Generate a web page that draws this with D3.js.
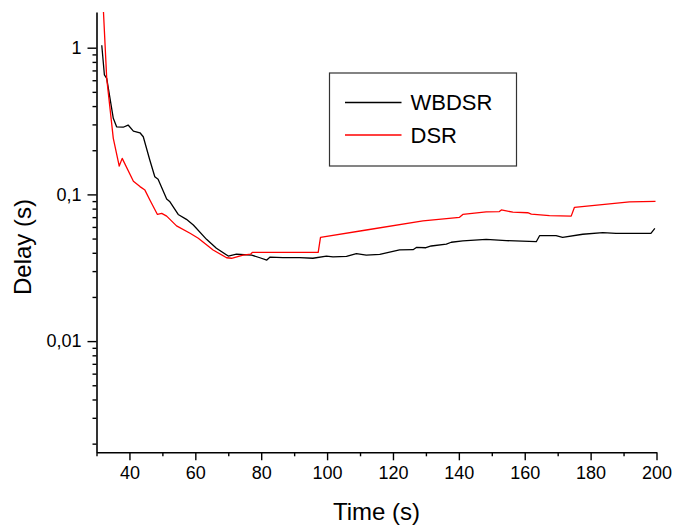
<!DOCTYPE html>
<html>
<head>
<meta charset="utf-8">
<script src="https://cdn.jsdelivr.net/npm/d3@7"></script>
<style>
  body { margin: 0; background: #fff; }
  text { font-family: Arial, "Liberation Sans", sans-serif; fill: #000; }
</style>
</head>
<body>
<div id="chart"></div>
<script>
// values
const wbdsrTime = [31.6, 32.4, 33.1, 35.1, 36.1, 38.1, 39.6, 41.2, 43.2, 44.2, 46.2, 47.7, 48.7, 51.3, 52.3, 54.8, 57.3, 59.4, 63.4, 66.4, 70.0, 72.5, 77.1, 79.6, 81.7, 82.7, 86.6, 91.7, 95.7, 99.8, 101.8, 105.9, 108.9, 111.9, 116, 122, 126.1, 127.1, 130, 131.6, 136.2, 137.7, 141.2, 148.3, 154.4, 163.5, 164.5, 169.5, 171.5, 177.6, 183.7, 187.7, 198.3, 199.5];
const wbdsrDelay = [1.04, 0.652, 0.618, 0.330, 0.289, 0.287, 0.297, 0.270, 0.263, 0.247, 0.171, 0.132, 0.127, 0.093, 0.089, 0.073, 0.0676, 0.0618, 0.0494, 0.0429, 0.038, 0.0391, 0.0386, 0.037, 0.0357, 0.0374, 0.0371, 0.0371, 0.0367, 0.038, 0.0375, 0.0378, 0.0395, 0.0386, 0.039, 0.0418, 0.042, 0.0435, 0.0433, 0.0445, 0.0458, 0.0472, 0.0482, 0.0493, 0.0484, 0.0476, 0.0523, 0.0523, 0.051, 0.0535, 0.0548, 0.0543, 0.0543, 0.0587];

const dsrTime = [31.9, 33.1, 35.1, 36.9, 37.8, 41.2, 43.2, 44.7, 46.2, 48.5, 49.8, 51.3, 54.3, 58.4, 60.9, 65.4, 69.5, 71.0, 74.5, 76.8, 77.3, 97.3, 98.0, 111.9, 129.1, 140.2, 141.2, 148.3, 152.3, 152.9, 156.4, 160.9, 162, 167.5, 174.1, 175.1, 182.7, 191.8, 199.7];
const dsrDelay = [2.2, 0.618, 0.241, 0.156, 0.176, 0.123, 0.113, 0.107, 0.0916, 0.073, 0.0743, 0.0711, 0.061, 0.0543, 0.0502, 0.0418, 0.037, 0.0367, 0.0386, 0.0391, 0.0403, 0.0403, 0.0509, 0.0572, 0.0659, 0.0698, 0.073, 0.0759, 0.0764, 0.0783, 0.0756, 0.075, 0.0733, 0.0716, 0.0711, 0.0817, 0.0847, 0.089, 0.0897];

const xMajor = [40, 60, 80, 100, 120, 140, 160, 180, 200];
const xMinor = [30, 50, 70, 90, 110, 130, 150, 170, 190];
const yMajor = [1, 0.1, 0.01];
const yLabels = ["1", "0,1", "0,01"];

const width = 673;
const height = 526;
const margin = { top: 12, left: 96.5, right: 16.5, bottom: 73.7 };

const svg = d3.select("#chart")
    .append("svg")
    .attr("width", width)
    .attr("height", height);

const x = d3.scaleLinear()
    .domain([30, 200])
    .range([margin.left, width - margin.right]);

const y = d3.scaleLog()
    .domain([0.001746, 1.751])
    .range([height - margin.bottom, margin.top]);

// minor ticks for the log axis: 2..9 in each decade, kept inside the domain
const yMinor = [];
[0.001, 0.01, 0.1, 1].forEach(dec => {
    for (let k = 2; k <= 9; k++) {
        const v = dec * k;
        if (v > y.domain()[0] && v < y.domain()[1]) yMinor.push(v);
    }
});

svg.append("defs").append("clipPath")
    .attr("id", "plot")
    .append("rect")
    .attr("x", margin.left)
    .attr("y", margin.top)
    .attr("width", width - margin.left - margin.right)
    .attr("height", height - margin.top - margin.bottom);

const line = d3.line()
    .x(d => x(d[0]))
    .y(d => y(d[1]));

const series = [
    { name: "WBDSR", color: "#000", pts: d3.zip(wbdsrTime, wbdsrDelay) },
    { name: "DSR", color: "#ff0000", pts: d3.zip(dsrTime, dsrDelay) }
];

svg.append("g")
    .attr("clip-path", "url(#plot)")
    .selectAll("path")
    .data(series)
    .join("path")
    .attr("fill", "none")
    .attr("stroke", d => d.color)
    .attr("stroke-width", 1.3)
    .attr("stroke-linejoin", "round")
    .attr("d", d => line(d.pts));

// x axis
const xAxis = svg.append("g")
    .attr("transform", `translate(0,${height - margin.bottom})`)
    .call(d3.axisBottom(x).tickValues(xMajor).tickSize(8).tickPadding(6).tickSizeOuter(0));
xAxis.append("g")
    .call(d3.axisBottom(x).tickValues(xMinor).tickSize(4).tickFormat("").tickSizeOuter(0))
    .select(".domain").remove();

// y axis
const yAxis = svg.append("g")
    .attr("transform", `translate(${margin.left},0)`)
    .call(d3.axisLeft(y).tickValues(yMajor).tickSize(9).tickPadding(6).tickSizeOuter(0)
        .tickFormat((d, i) => yLabels[i]));
yAxis.append("g")
    .call(d3.axisLeft(y).tickValues(yMinor).tickSize(4).tickFormat("").tickSizeOuter(0))
    .select(".domain").remove();

svg.selectAll(".domain").attr("stroke-width", 1.6);
svg.selectAll(".tick line").attr("stroke-width", 1.4);
svg.selectAll(".tick text")
    .style("font-family", "Arial, 'Liberation Sans', sans-serif")
    .style("font-size", "18px");

// axis titles
svg.append("text")
    .attr("x", (margin.left + width - margin.right) / 2)
    .attr("y", 520)
    .attr("text-anchor", "middle")
    .style("font-size", "24px")
    .text("Time (s)");

svg.append("text")
    .attr("transform", "translate(31,247) rotate(-90)")
    .attr("text-anchor", "middle")
    .style("font-size", "24px")
    .text("Delay (s)");

// legend
const legend = svg.append("g").attr("transform", "translate(329.5,73)");
legend.append("rect")
    .attr("width", 187)
    .attr("height", 93)
    .attr("fill", "none")
    .attr("stroke", "#333")
    .attr("stroke-width", 1.2);

const item = legend.selectAll("g.item")
    .data(series)
    .join("g")
    .attr("class", "item")
    .attr("transform", (d, i) => `translate(0,${29.5 + i * 32.5})`);
item.append("line")
    .attr("x1", 15.5)
    .attr("x2", 72)
    .attr("stroke", d => d.color)
    .attr("stroke-width", 1.3);
item.append("text")
    .attr("x", 81)
    .attr("dy", "0.36em")
    .style("font-size", "22px")
    .text(d => d.name);
</script>
</body>
</html>
